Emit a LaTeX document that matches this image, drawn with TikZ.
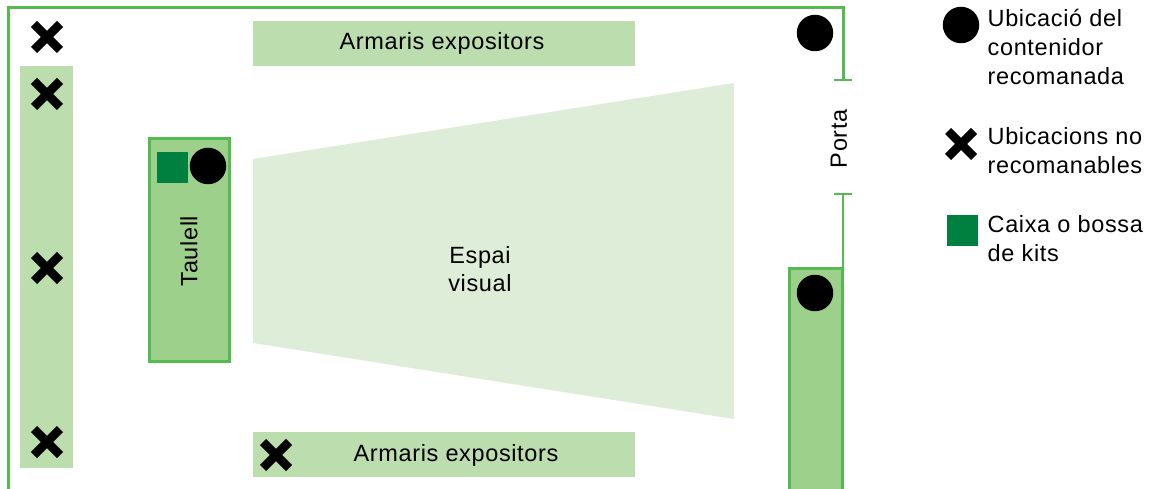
\documentclass[tikz,border=0pt]{standalone}
\usepackage{fontspec}
\setmainfont[LetterSpace=2.7]{Liberation Sans}
\definecolor{shelf}{HTML}{BCDDAE}
\definecolor{desk}{HTML}{9DD08B}
\definecolor{wall}{HTML}{55BB50}
\definecolor{sight}{HTML}{DDEDD7}
\definecolor{kit}{HTML}{00803E}
\tikzset{
  x=1pt,y=-1pt,
  shelfbox/.style={fill=shelf,draw=none},
  deskbox/.style={fill=desk,draw=wall,line width=3pt},
  wallline/.style={draw=wall,line width=3pt},
  kitbox/.style={fill=kit,draw=none},
  spot/.style={circle,fill=black,draw=none,minimum size=36.5pt,inner sep=0pt,outer sep=0pt},
  label/.style={font=\fontsize{23.5pt}{28.5pt}\selectfont,inner sep=0pt,align=center},
  legend/.style={font=\fontsize{23.5pt}{29pt}\selectfont,inner sep=0pt,align=left,anchor=west},
  crossarm/.style={line width=8.5pt,line cap=butt,draw=black},
  pics/nogo/.style={code={
    \draw[crossarm] (-13,-13) -- (13,13);
    \draw[crossarm] (-13,13) -- (13,-13);
  }}
}
\begin{document}
\begin{tikzpicture}
\useasboundingbox (0,0) rectangle (1149,489);
% visual area
\fill[sight] (253,159) -- (734,83) -- (734,419) -- (253,343) -- cycle;
\node[label] (visual) at (480,269) {Espai\\visual};
% shelves
\path[shelfbox] (20,66) rectangle (73,468);
\path[shelfbox] (253,21) rectangle (635,66);
\path[shelfbox] (253,432) rectangle (635,477);
\node[label] (shelfTop) at (442,43.7) {Armaris expositors};
\node[label] (shelfBottom) at (456,455.7) {Armaris expositors};
% walls
\draw[wallline] (8.5,489) -- (8.5,7.5) -- (843,7.5) -- (843,80);
\draw[wall,line width=2.5pt] (834,80) -- (852,80);
\draw[wall,line width=2.5pt] (834,194) -- (852,194);
\draw[wall,line width=2.5pt] (843,194) -- (843,269);
\node[label,rotate=90] (door) at (839,138.7) {Porta};
% desks
\path[deskbox] (149.5,138.5) rectangle (229.5,361);
\path[deskbox] (789,269) -- (789,492) -- (842,492) -- (842,269) -- cycle;
\node[label,rotate=90] (counter) at (189,251) {Taulell};
% markers
\path[kitbox] (157,152) rectangle (188,183);
\node[spot] (s1) at (208,166) {};
\node[spot] (s2) at (815,33) {};
\node[spot] (s3) at (815,293) {};
\pic at (47,37) {nogo};
\pic at (47,94) {nogo};
\pic at (47,268) {nogo};
\pic at (47,442) {nogo};
\pic at (276,455) {nogo};
% legend
\node[spot] (l1) at (961,25) {};
\pic at (961,144) {nogo};
\path[kitbox] (947,215) rectangle (978,246);
\node[legend] (t1) at (987.5,47) {Ubicació del\\contenidor\\recomanada};
\node[legend] (t2) at (987.5,150.5) {Ubicacions no\\recomanables};
\node[legend] (t3) at (987.5,238.5) {Caixa o bossa\\de kits};
\end{tikzpicture}
\end{document}
